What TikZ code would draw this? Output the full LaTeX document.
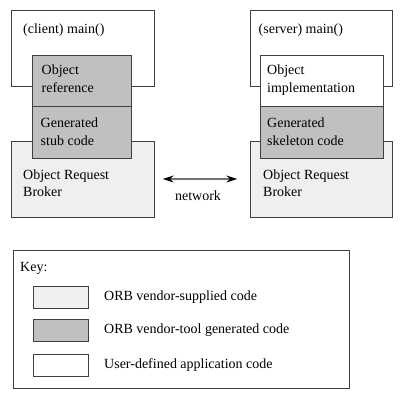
\documentclass[tikz,border=0pt]{standalone}
\usepackage{fontspec}
\setmainfont{Liberation Serif}
\usepackage{xcolor}
\usetikzlibrary{arrows.meta, positioning}
\definecolor{orbgray}{HTML}{EFEFEF}
\definecolor{gengray}{HTML}{C0C0C0}
\tikzset{> = { Stealth[length = 11pt, width = 7pt, black] }}

\begin{document}
\begin{tikzpicture}[x = 1pt, y = -1pt,
		font = \fontsize{14pt}{17.5pt}\selectfont,
		part/.style = { draw = black!75, line width = 0.8pt, anchor = north west, inner sep = 0pt, outer sep = 0pt },
		user/.style = { part, fill = white },
		vendor/.style = { part, fill = orbgray },
		generated/.style = { part, fill = gengray },
		txt/.style = { anchor = north west, inner sep = 0pt, align = left }]
		\useasboundingbox (0, 0) rectangle (406, 402);

		% client side
		\node [user, minimum width = 143pt, minimum height = 76pt]      (cmain) at (11, 10) {};
		\node [vendor, minimum width = 143pt, minimum height = 76pt]    (corb)  at (11, 141) {};
		\node [generated, minimum width = 99pt, minimum height = 51pt]  (cref)  at (32, 55) {};
		\node [generated, minimum width = 99pt, minimum height = 52pt]  (cstub) at (32, 106) {};

		\node [txt, below right = 14pt and 12pt of cmain.north west] {(client) main()};
		\node [txt, below right = 10pt and 9.5pt of cref.north west]  {Object\\reference};
		\node [txt, below right = 12pt and 8.5pt of cstub.north west] {Generated\\stub code};
		\node [txt, below right = 28.5pt and 12pt of corb.north west] {Object Request\\Broker};

		% server side
		\node [user, minimum width = 142pt, minimum height = 76pt]      (smain) at (250, 10) {};
		\node [vendor, minimum width = 142pt, minimum height = 76pt]    (sorb)  at (250, 141) {};
		\node [user, minimum width = 123pt, minimum height = 51pt]      (simpl) at (260, 55) {};
		\node [generated, minimum width = 123pt, minimum height = 52pt] (sskel) at (260, 106) {};

		\node [txt, below right = 14pt and 8.5pt of smain.north west] {(server) main()};
		\node [txt, below right = 10pt and 7pt of simpl.north west]   {Object\\implementation};
		\node [txt, below right = 12pt and 7pt of sskel.north west]   {Generated\\skeleton code};
		\node [txt, below right = 28.5pt and 13pt of sorb.north west] {Object Request\\Broker};

		\draw [<->, draw = black!55, line width = 1.2pt, shorten < = 8.7pt, shorten > = 12.7pt]
			(corb) -- node [below = 11pt, xshift = -4pt, inner sep = 0pt, text = black] {network} (sorb);

		% key
		\node [user, minimum width = 336pt, minimum height = 138pt] (key) at (13, 250) {};
		\node [txt, below right = 12pt and 7pt of key.north west] {Key:};

		\node [vendor, minimum width = 55pt, minimum height = 22pt]    (kvendor) at (33, 286) {};
		\node [generated, minimum width = 55pt, minimum height = 22pt] (kgen)    at (33, 319) {};
		\node [user, minimum width = 55pt, minimum height = 22pt]      (kuser)   at (33, 354) {};

		\node [right = 16pt of kvendor, inner sep = 0pt] {ORB vendor-supplied code};
		\node [right = 16pt of kgen, inner sep = 0pt]    {ORB vendor-tool generated code};
		\node [right = 16pt of kuser, inner sep = 0pt]   {User-defined application code};
	\end{tikzpicture}
\end{document}
